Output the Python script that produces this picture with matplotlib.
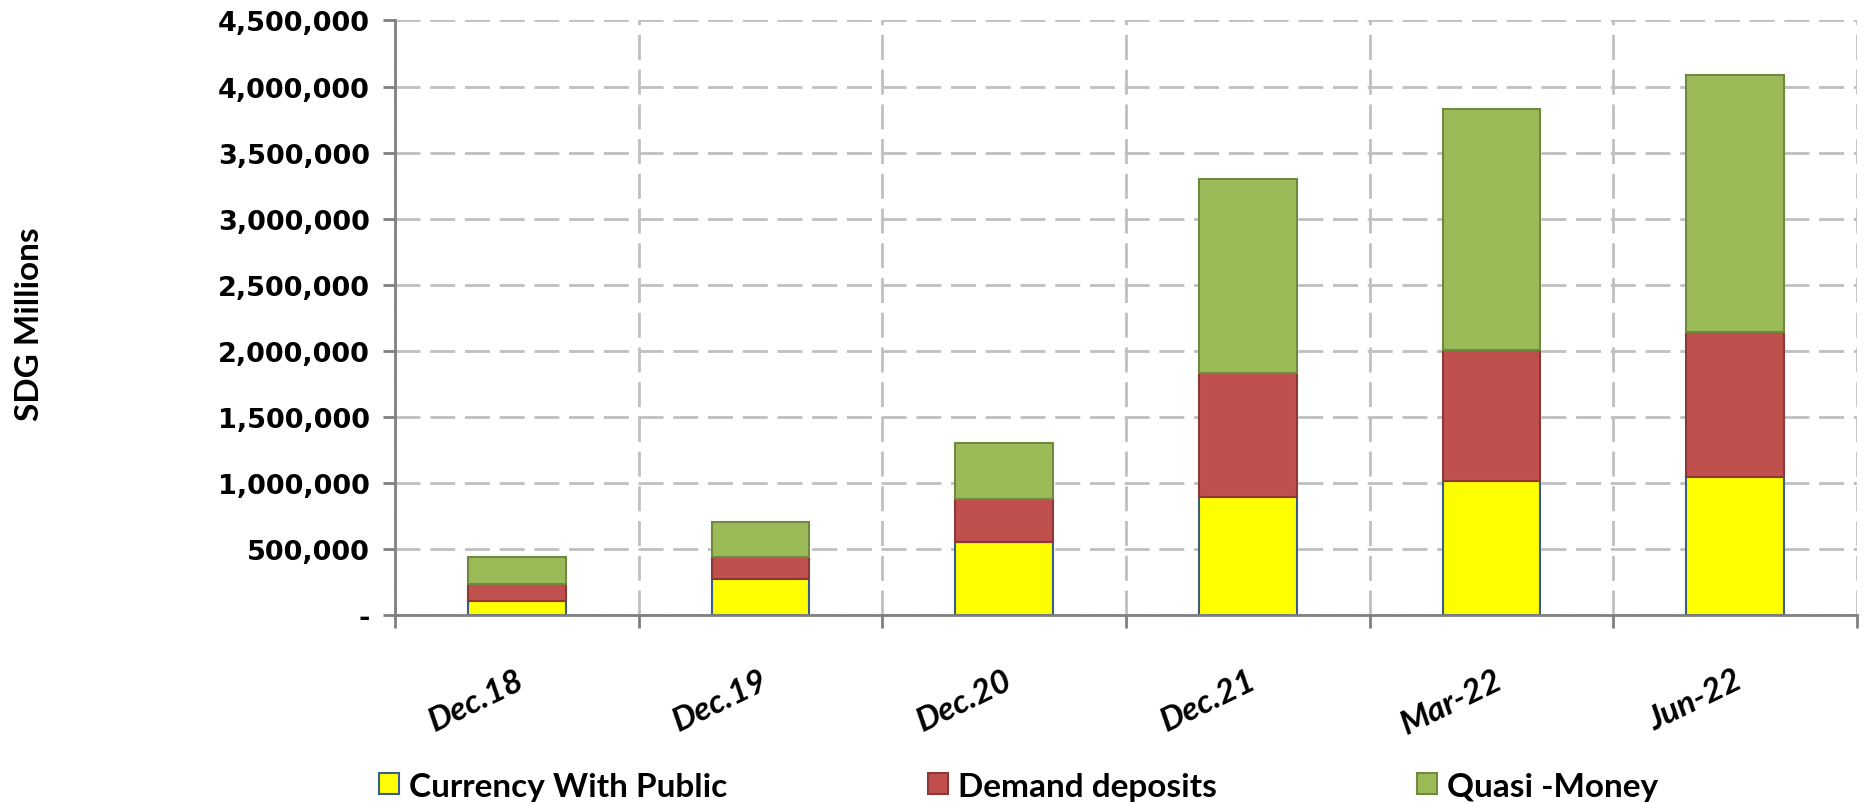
import numpy as np
import matplotlib
matplotlib.use('Agg')
import matplotlib.pyplot as plt
import matplotlib.transforms as mtransforms
from matplotlib.ticker import FuncFormatter, MultipleLocator, FixedLocator

# data (SDG millions)
periods = ['Dec.18', 'Dec.19', 'Dec.20', 'Dec.21', 'Mar-22', 'Jun-22']
currency = [106000, 273000, 556000, 896000, 1014000, 1045000]
demand = [126000, 164000, 323000, 939000, 989000, 1095000]
quasi = [205000, 265000, 421000, 1465000, 1829000, 1950000]

narrow = ['Lato', 'DejaVu Sans']

fig = plt.figure(figsize=(18.69, 8.04), dpi=100)
ax = fig.add_axes([0.2113, 0.2338, 0.7823, 0.7395])

x = np.arange(len(periods))
w = 0.4
b1 = ax.bar(x, currency, w, color='#ffff00', edgecolor='#385d8a', lw=1.5,
            label='Currency With Public', zorder=3)
bot = np.array(currency)
b2 = ax.bar(x, demand, w, bottom=bot, color='#c0504d', edgecolor='#8c3836',
            lw=1.5, label='Demand deposits', zorder=3)
bot = bot + np.array(demand)
b3 = ax.bar(x, quasi, w, bottom=bot, color='#9bbb59', edgecolor='#71893f',
            lw=1.5, label='Quasi -Money', zorder=3)

ax.set_xlim(-0.5, len(periods) - 0.5)
ax.set_ylim(0, 4500000)

# y axis
ax.yaxis.set_major_locator(MultipleLocator(500000))
ax.yaxis.set_major_formatter(FuncFormatter(lambda v, p: '-' if v == 0 else f'{v:,.0f}'))
ax.tick_params(axis='y', direction='out', length=9, width=2, color='#808080',
               pad=9, labelsize=19.5)
for t in ax.get_yticklabels():
    t.set_fontweight('bold')

# x axis: labels at centres, tick marks + grid at boundaries
ax.set_xticks(x)
ax.set_xticklabels(periods)
ax.xaxis.set_minor_locator(FixedLocator(np.arange(-0.5, len(periods), 1.0)))
ax.tick_params(axis='x', which='major', length=0, pad=36)
ax.tick_params(axis='x', which='minor', direction='out', length=9, width=2,
               color='#808080')
offset = mtransforms.ScaledTranslation(-40 / 100, 0, fig.dpi_scale_trans)
for t in ax.get_xticklabels():
    t.set_family(narrow)
    t.set_fontsize(24)
    t.set_fontweight('bold')
    t.set_fontstyle('italic')
    t.set_rotation(26)
    t.set_ha('center')
    t.set_transform(t.get_transform() + offset)

ax.grid(True, axis='y', which='major', color='#c0c0c0', lw=2,
        linestyle=(0, (9, 3.5)), zorder=0)
ax.grid(True, axis='x', which='minor', color='#c0c0c0', lw=2,
        linestyle=(0, (9, 3.5)), zorder=0)
ax.grid(False, axis='x', which='major')

for s in ['top', 'right']:
    ax.spines[s].set_visible(False)
for s in ['left', 'bottom']:
    ax.spines[s].set_color('#808080')
    ax.spines[s].set_linewidth(2)
    ax.spines[s].set_zorder(4)

fig.text(0.016, 0.597, 'SDG Millions', rotation=90, ha='center', va='center',
         fontsize=24, fontweight='bold', family=narrow)

leg = fig.legend(handles=[b1, b2, b3], loc='center', ncol=3,
                 bbox_to_anchor=(0.545, 0.021), frameon=False,
                 prop={'family': narrow, 'weight': 'bold', 'size': 24},
                 handlelength=0.6, handleheight=0.6, handletextpad=0.3,
                 columnspacing=6.0)

fig.savefig('out.png', dpi=100)
